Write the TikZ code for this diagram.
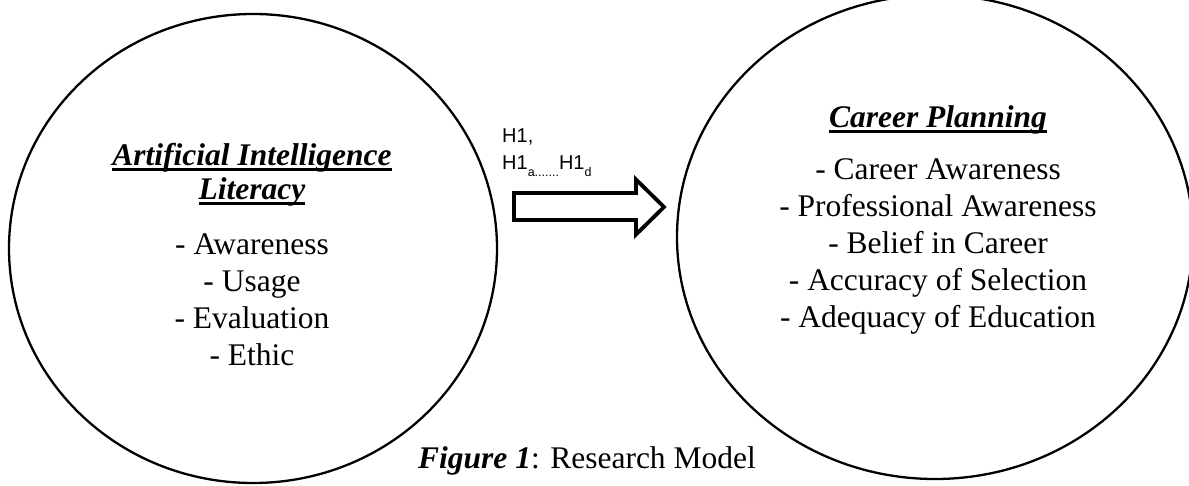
\documentclass[tikz,border=0pt]{standalone}
\usepackage{fontspec}
\setmainfont{Liberation Serif}
\newfontfamily\arialfont{Liberation Sans}
\usetikzlibrary{shapes.geometric}
\newcommand\myul[1]{\setbox0\hbox{#1}\rlap{\rule[-5.5pt]{\wd0}{2.4pt}}\box0}
\newcommand\mysub[1]{\raisebox{-7.5pt}{\fontsize{12.5}{12.5}\selectfont #1}}
\begin{document}
\begin{tikzpicture}[x=1pt,y=-1pt,
  circ/.style={ellipse, draw, line width=2.3pt, inner sep=0pt},
  txt/.style={font=\fontsize{31.5}{37}\selectfont, anchor=base, inner sep=0pt},
  ttl/.style={font=\fontsize{31.5}{37}\selectfont\bfseries\itshape, anchor=base, inner sep=0pt},
  hlab/.style={font=\arialfont\fontsize{20}{24}\selectfont, anchor=base west, inner sep=0pt},
  blockarrow/.style={draw, line width=3.8pt, miter limit=10}]
\useasboundingbox (0,0) rectangle (1189,485);
% circles
\node[circ, minimum width=488pt, minimum height=469pt] (ai) at (253,248.5) {};
\node[circ, minimum width=516pt, minimum height=484pt] (cp) at (935,237) {};
% left texts
\node[ttl] (ait1) at (252,165) {\myul{Artificial Intelligence}};
\node[ttl] (ait2) at (252,199) {\myul{Literacy}};
\node[txt] (ai1) at (252,254) {- Awareness};
\node[txt] (ai2) at (252,291) {- Usage};
\node[txt] (ai3) at (252,328) {- Evaluation};
\node[txt] (ai4) at (252,365) {- Ethic};
% right texts
\node[ttl] (cpt) at (938,127) {\myul{Career Planning}};
\node[txt] (cp1) at (938,179) {- Career Awareness};
\node[txt] (cp2) at (938,216) {- Professional Awareness};
\node[txt] (cp3) at (938,253) {- Belief in Career};
\node[txt] (cp4) at (938,290) {- Accuracy of Selection};
\node[txt] (cp5) at (938,327) {- Adequacy of Education};
% hypothesis labels
\node[hlab] (h1) at (502,142) {H1,};
\node[hlab] (h1ad) at (502,169) {H1\mysub{a.......}H1\mysub{d}};
% block arrow
\coordinate (atail) at (514,206.5);
\coordinate (atip) at (664,207);
\draw[blockarrow] (514,193) -- (636,193) -- (636,179.5) -- (atip) -- (636,234.5) -- (636,220) -- (514,220) -- cycle;
% caption
\node[txt] (cap) at (587,468) {\textbf{\textit{Figure 1}}: Research Model};
\end{tikzpicture}
\end{document}
